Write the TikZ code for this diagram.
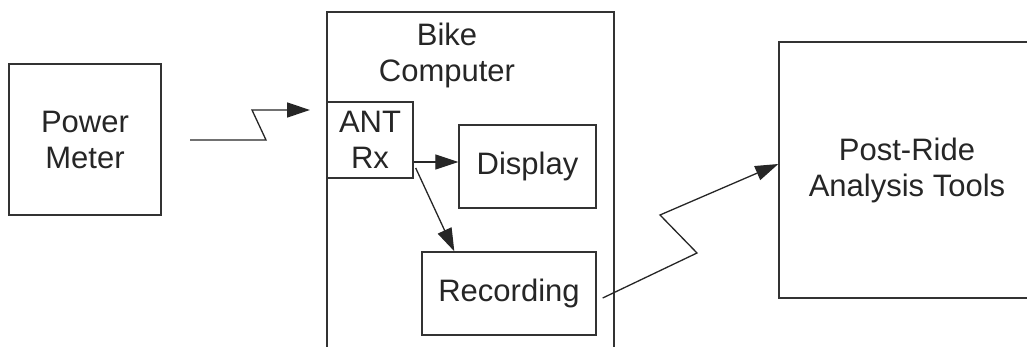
\documentclass[tikz,border=0pt]{standalone}
\usepackage{fontspec}
\setmainfont{Liberation Sans}
\usetikzlibrary{arrows.meta,calc}
\begin{document}
\begin{tikzpicture}[x=1pt,y=-1pt,
  box/.style={draw=black!80,line width=1.4pt,rectangle,inner sep=0pt,
    font=\fontsize{31}{36}\selectfont,align=center,text=black!85},
  lbl/.style={inner sep=0pt,font=\fontsize{31}{36}\selectfont,align=center,text=black!85},
  conn/.style={draw=black!85,line width=1.3pt,-{Triangle[length=23pt,width=15pt]}}]
\useasboundingbox (0,0) rectangle (1027,347);
\clip (0,0) rectangle (1027,347);
\fill[white] (0,0) rectangle (1027,347);
% boxes
\node[box,minimum width=152pt,minimum height=151pt] (pm) at (85,139.5) {Power\\Meter};
\node[box,minimum width=287pt,minimum height=400pt] (bike) at (470.5,212) {};
\node[lbl] (bikelbl) at (447,55) {Bike\\Computer};
\node[box,minimum width=86pt,minimum height=76pt] (ant) at (370,140) {ANT\\Rx};
\node[box,minimum width=137pt,minimum height=83pt] (disp) at (527.5,166.5) {Display};
\node[box,minimum width=174pt,minimum height=83pt] (rec) at (509,293.5) {Recording};
\node[box,minimum width=256pt,minimum height=256pt] (post) at (907,170) {Post-Ride\\Analysis Tools};
% connector end points
\coordinate (w1s) at (190,140);
\coordinate (w1e) at (310,110);
\coordinate (a1) at ($(ant.east)+(0,22)$);
\coordinate (a2) at ($(ant.east)+(2,28)$);
\coordinate (a2e) at ($(rec.north west)+(33,0)$);
\coordinate (w2s) at ($(rec.east)+(6,4.5)$);
\coordinate (w2e) at ($(post.west)+(0,-6)$);
% connectors
\draw[conn] (w1s) -- (266,140) -- (252,110) -- (w1e);
\draw[conn] (a1) -- (a1 -| disp.west);
\draw[conn] (a2) -- (a2e);
\draw[conn] (w2s) -- (697,253) -- (660,215) -- (w2e);
\end{tikzpicture}
\end{document}
